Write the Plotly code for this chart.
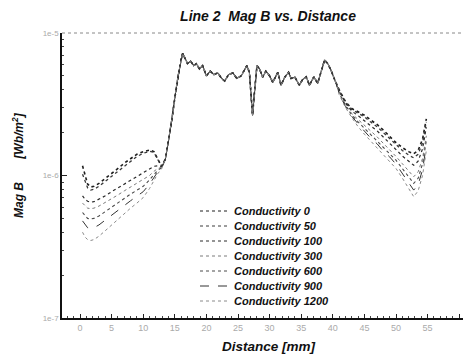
import plotly.graph_objects as go

# ---------------- data (values in 1e-6 Wb/m^2) ----------------
labels = ["Conductivity 0", "Conductivity 50", "Conductivity 100", "Conductivity 300",
          "Conductivity 600", "Conductivity 900", "Conductivity 1200"]

left_x = [0.4, 0.8, 1.2, 1.7, 2.2, 3, 4, 5, 6, 7, 8, 9, 10, 11, 11.7, 12.3, 12.9]
left_c0 = [1.17, 1.0, 0.87, 0.83, 0.84, 0.88, 0.95, 1.04, 1.12, 1.22, 1.32, 1.41, 1.47, 1.51, 1.47, 1.32, 1.16]
left_c50 = [1.02, 0.9, 0.82, 0.79, 0.80, 0.84, 0.91, 0.99, 1.07, 1.17, 1.27, 1.36, 1.43, 1.48, 1.45, 1.30, 1.16]
left_c100 = [0.72, 0.68, 0.66, 0.65, 0.655, 0.68, 0.72, 0.77, 0.82, 0.87, 0.93, 0.99, 1.05, 1.12, 1.16, 1.17, 1.15]
left_c300 = [0.64, 0.61, 0.59, 0.585, 0.59, 0.61, 0.645, 0.69, 0.73, 0.78, 0.83, 0.88, 0.93, 1.0, 1.07, 1.12, 1.14]
left_c600 = [0.55, 0.52, 0.50, 0.495, 0.50, 0.52, 0.56, 0.60, 0.645, 0.69, 0.74, 0.79, 0.84, 0.93, 1.02, 1.09, 1.13]
left_c900 = [0.48, 0.45, 0.43, 0.425, 0.43, 0.45, 0.485, 0.525, 0.57, 0.615, 0.665, 0.715, 0.77, 0.87, 0.97, 1.06, 1.12]
left_c1200 = [0.40, 0.37, 0.355, 0.35, 0.355, 0.375, 0.41, 0.45, 0.495, 0.54, 0.59, 0.64, 0.70, 0.81, 0.93, 1.03, 1.11]

mid_x = [13.5, 14.0, 14.5, 15.0, 15.5, 16.0, 16.25, 16.6, 17.0, 17.5, 18.0, 18.4, 18.9, 19.4,
         20.0, 20.6, 21.2, 21.8, 22.4, 22.9, 23.5, 24.2, 24.8, 25.5, 26.0, 26.4, 26.8, 27.0,
         27.3, 27.6, 28.0, 28.4, 28.9, 29.4, 30.0, 30.5, 31.0, 31.3, 31.8, 32.4, 33.0, 33.4,
         34.0, 34.7, 35.2, 35.8, 36.3, 37.0, 37.6, 38.2, 38.7, 39.2, 39.7, 40.3, 40.8]
mid_y = [1.3, 1.75, 2.4, 3.5, 5.0, 6.6, 7.2, 6.7, 6.1, 6.35, 5.9, 6.1, 5.6, 5.9,
         5.0, 5.4, 5.1, 5.25, 4.8, 4.6, 5.1, 5.25, 4.8, 5.0, 5.5, 5.9, 5.3, 3.8,
         2.65, 3.8, 5.9, 5.6, 4.9, 5.4, 5.0, 4.5, 5.0, 5.3, 4.3, 4.9, 5.3, 4.8,
         4.9, 4.3, 4.7, 4.93, 4.3, 4.93, 4.43, 5.4, 6.47, 6.1, 5.5, 4.7, 4.1]

right_x = [41, 42, 43, 44, 45, 46, 47, 48, 49, 50, 51, 52, 52.8, 53.5, 54.2, 54.8]
right_c0 = [4.0, 3.3, 2.95, 2.8, 2.65, 2.45, 2.28, 2.08, 1.88, 1.7, 1.57, 1.47, 1.42, 1.5, 1.8, 2.5]
right_c50 = [3.97, 3.27, 2.91, 2.74, 2.58, 2.37, 2.20, 2.00, 1.81, 1.64, 1.50, 1.39, 1.33, 1.41, 1.70, 2.38]
right_c100 = [3.92, 3.22, 2.83, 2.63, 2.44, 2.23, 2.06, 1.87, 1.69, 1.52, 1.37, 1.26, 1.18, 1.26, 1.54, 2.18]
right_c300 = [3.84, 3.14, 2.72, 2.47, 2.26, 2.04, 1.87, 1.68, 1.52, 1.36, 1.21, 1.08, 0.98, 1.06, 1.32, 1.90]
right_c600 = [3.79, 3.09, 2.66, 2.38, 2.15, 1.94, 1.76, 1.58, 1.43, 1.28, 1.12, 0.985, 0.88, 0.955, 1.21, 1.76]
right_c900 = [3.74, 3.05, 2.60, 2.29, 2.05, 1.83, 1.67, 1.48, 1.35, 1.20, 1.03, 0.90, 0.79, 0.86, 1.10, 1.62]
right_c1200 = [3.7, 3.0, 2.55, 2.2, 1.95, 1.75, 1.57, 1.4, 1.27, 1.12, 0.96, 0.82, 0.71, 0.78, 1.0, 1.5]

lefts = [left_c0, left_c50, left_c100, left_c300, left_c600, left_c900, left_c1200]
rights = [right_c0, right_c50, right_c100, right_c300, right_c600, right_c900, right_c1200]

x_ticks = [0, 5, 10, 15, 20, 25, 30, 35, 40, 45, 50, 55, 60]
y_tickvals = [1e-7, 1e-6, 1e-5]
y_ticktext = ["1e-7", "1e-6", "1e-5"]

# ---------------- styles ----------------
colors = ["#1e1e1e", "#3a3a3a", "#2a2a2a", "#7a7a7a", "#4a4a4a", "#333333", "#8a8a8a"]
dashes = ["dot", "dot", "dot", "dot", "dot", "dash", "dot"]
widths = [1.6, 1.3, 1.2, 1.0, 1.1, 1.0, 1.0]

FONT = "Liberation Sans, Arial, sans-serif"
W, H = 463, 361
ML, MR, MT, MB = 62, 0, 33, 43
PW, PH = W - ML - MR, H - MT - MB


def px_to_paper_x(px):
    return (px - ML) / PW


def px_to_paper_y(py):
    return (H - MB - py) / PH


fig = go.Figure()
for i, lab in enumerate(labels):
    xs = left_x + mid_x + right_x
    ys = [v * 1e-6 for v in (lefts[i] + mid_y + rights[i])]
    fig.add_trace(go.Scatter(
        x=xs, y=ys, mode="lines", name=lab, showlegend=False, hoverinfo="skip",
        line=dict(color=colors[i], dash=dashes[i], width=widths[i]),
    ))

fig.update_layout(
    width=W, height=H,
    margin=dict(l=ML, r=MR, t=MT, b=MB),
    paper_bgcolor="white", plot_bgcolor="white",
    font=dict(family=FONT, color="#111"),
    title=dict(text="<b><i>Line 2\u00a0\u00a0Mag B vs. Distance</i></b>",
               x=268 / W, xanchor="center", y=1 - 16 / H, yanchor="middle",
               font=dict(size=14, color="#111")),
    showlegend=False,
)

fig.update_xaxes(
    range=[-2.85, 60.6], tickvals=x_ticks, ticks="inside", ticklen=4, tickcolor="#222",
    showline=True, linecolor="#111", linewidth=1.5, showgrid=False, zeroline=False,
    tickfont=dict(size=9, color="#aaaaaa"),
    minor=dict(dtick=1, ticks="inside", ticklen=2, tickcolor="#444", showgrid=False),
)
fig.update_yaxes(
    type="log", range=[-7, -5], tickvals=y_tickvals, ticktext=y_ticktext,
    ticks="inside", ticklen=5, tickcolor="#222",
    showline=True, linecolor="#111", linewidth=1.5, showgrid=False, zeroline=False,
    tickfont=dict(size=8, color="#aaaaaa"),
    minor=dict(dtick="D1", ticks="inside", ticklen=2, tickcolor="#444", showgrid=False),
)

# dotted frame line at the top of the plot
fig.add_shape(type="line", xref="paper", yref="paper", x0=0, x1=1, y0=1, y1=1,
              line=dict(color="#888", width=1, dash="dot"))

# legend (drawn manually to match the compact row spacing)
leg_top, leg_step = 211, 15
for i, lab in enumerate(labels):
    yp = px_to_paper_y(leg_top + i * leg_step)
    fig.add_shape(type="line", xref="paper", yref="paper",
                  x0=px_to_paper_x(200), x1=px_to_paper_x(228), y0=yp, y1=yp,
                  line=dict(color=colors[i], dash=dashes[i], width=1))
    fig.add_annotation(text="<b><i>" + lab + "</i></b>", xref="paper", yref="paper",
                       x=px_to_paper_x(232), y=yp, xanchor="left", yanchor="middle",
                       showarrow=False, font=dict(size=11, color="#111"))

# axis titles
fig.add_annotation(text="<b><i>Distance [mm]</i></b>", xref="paper", yref="paper",
                   x=px_to_paper_x(269), y=px_to_paper_y(346), xanchor="center",
                   yanchor="middle", showarrow=False, font=dict(size=13.5, color="#111"))
fig.add_annotation(text="<b><i>Mag B\u00a0\u00a0\u00a0\u00a0\u00a0\u00a0\u00a0[Wb/m<sup>2</sup>]</i></b>",
                   xref="paper", yref="paper", x=px_to_paper_x(18), y=px_to_paper_y(165),
                   xanchor="center", yanchor="middle", textangle=-90, showarrow=False,
                   font=dict(size=12, color="#111"))

fig.write_html("out.html", config={"displayModeBar": False},
               post_script="document.body.style.margin='0';")
